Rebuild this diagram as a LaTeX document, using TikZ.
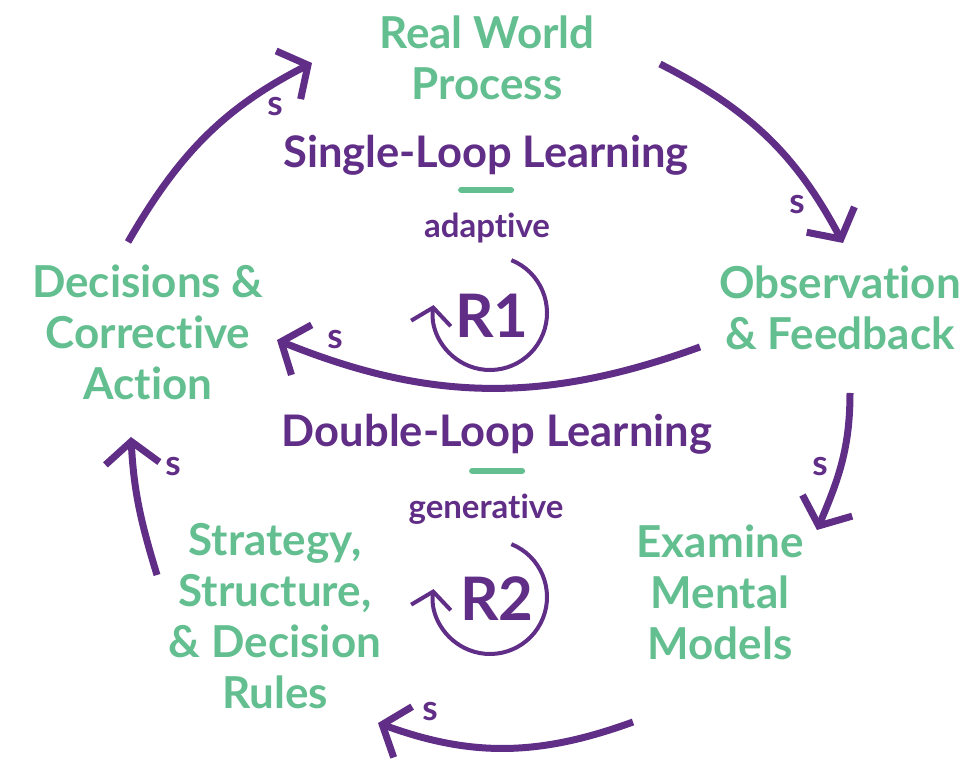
\documentclass[tikz,border=0pt]{standalone}
\usepackage{fontspec}
\setmainfont[Ligatures=NoCommon]{Lato}
\usetikzlibrary{arrows.meta}
\definecolor{leaf}{RGB}{99,190,144}
\definecolor{plum}{RGB}{96,45,135}

\begin{document}
\begin{tikzpicture}[x=1bp, y=1bp,
	var/.style={text=leaf, align=center, inner sep=0pt, font=\bfseries\fontsize{44bp}{51bp}\selectfont},
	loopname/.style={text=plum, inner sep=0pt, font=\bfseries\fontsize{43.5bp}{48bp}\selectfont},
	sub/.style={text=plum, inner sep=0pt, font=\bfseries\fontsize{33bp}{36bp}\selectfont},
	big/.style={text=plum, inner sep=0pt, font=\bfseries\fontsize{60bp}{70bp}\selectfont},
	pol/.style={text=plum, inner sep=0pt, font=\bfseries\fontsize{35bp}{36bp}\selectfont},
	link/.style={draw=plum, line width=7bp, -{Straight Barb[length=22bp, width=54bp, sharp]}},
	turn/.style={draw=plum, line width=4bp, -{Straight Barb[length=16bp, width=40bp, sharp]}},
	bar/.style={draw=leaf, line width=6bp, line cap=round}]
	\useasboundingbox (0,0) rectangle (979,760);
	\node[var] (rw) at (487,702) {Real World\\Process};
	\node[var] (obs) at (840,452) {Observation\\\& Feedback};
	\node[var] (dec) at (148,428) {Decisions \&\\Corrective\\Action};
	\node[var] (exam) at (720,168) {Examine\\Mental\\Models};
	\node[var] (strat) at (275,144) {Strategy,\\Structure,\\\& Decision\\Rules};
	\node[loopname] (single) at (486,605) {Single-Loop Learning};
	\node[sub] (adapt) at (487,532) {adaptive};
	\node[big] (r1) at (492,444) {R1};
	\node[loopname] (double) at (497,326) {Double-Loop Learning};
	\node[sub] (gen) at (486,251) {generative};
	\node[big] (r2) at (497,161) {R2};
	\draw[bar] ([xshift=-25]single.center) ++(0,-35) -- ++(50,0);
	\draw[bar] ([xshift=-25]double.center) ++(0,-37) -- ++(50,0);
	\draw[turn] ([shift={(-2,3)}]r1.center) ++(68:57) arc[start angle=68, end angle=-188, radius=57];
	\draw[turn] ([shift={(-7,2)}]r2.center) ++(68:57) arc[start angle=68, end angle=-188, radius=57];
	\draw[link] ([shift={(-20,90)}]dec.center) to[out=60, in=207] node[pol, pos=1, shift={(-37,-44)}] {s} ([shift={(-175,-5)}]rw.center);
	\draw[link] ([shift={(173,-6)}]rw.center) to[out=-27, in=118] node[pol, pos=1, shift={(-46,38)}] {s} ([shift={(3,65)}]obs.center);
	\draw[link] ([shift={(-140,-39)}]obs.center) to[out=200, in=-22] node[pol, pos=1, shift={(58,0)}] {s} ([shift={(129,-8)}]dec.center);
	\draw[link] ([shift={(10,-85)}]obs.center) to[out=-90, in=67] node[pol, pos=1, shift={(3,63)}] {s} ([shift={(97,62)}]exam.center);
	\draw[link] ([shift={(-87,-130)}]exam.center) to[out=200, in=-20] node[pol, pos=1, shift={(52,11)}] {s} ([shift={(103,-107)}]strat.center);
	\draw[link] ([shift={(-118,41)}]strat.center) to[out=107, in=-87] node[pol, pos=1, shift={(42,-30)}] {s} ([shift={(-17,-105)}]dec.center);
\end{tikzpicture}
\end{document}
